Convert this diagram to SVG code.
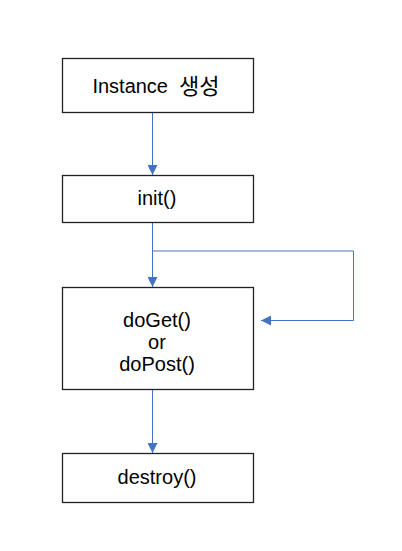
<svg xmlns="http://www.w3.org/2000/svg" width="402" height="551" viewBox="0 0 402 551">
<defs>
<marker id="ah" markerWidth="11" markerHeight="10" refX="10" refY="5" orient="auto" markerUnits="userSpaceOnUse"><path d="M0,0 L10,5 L0,10 Z" fill="#4472C4"/></marker>
<style>
.box{fill:#fff;stroke:#222;stroke-width:1.3}
.t{font-family:"Liberation Sans","Noto Sans CJK KR",sans-serif;font-size:20px;fill:#000;text-anchor:middle;dominant-baseline:central;white-space:pre}
.ko{font-size:22px}
.c{fill:none;stroke:#4472C4;stroke-width:1}
</style>
</defs>
<rect width="402" height="551" fill="#fff"/>
<g id="connectors">
<path class="c" d="M152.5,112 V175" marker-end="url(#ah)"/>
<path class="c" d="M152.5,222 V287" marker-end="url(#ah)"/>
<path class="c" d="M152.5,251 H353.5 V320.5 H261" marker-end="url(#ah)"/>
<path class="c" d="M152.5,389 V453" marker-end="url(#ah)"/>
</g>
<g id="instance"><rect class="box" x="62.5" y="58.5" width="191" height="54"/><text class="t" x="156" y="86" xml:space="preserve">Instance  <tspan class="ko">생성</tspan></text></g>
<g id="init"><rect class="box" x="62.5" y="175.5" width="191" height="47"/><text class="t" x="157" y="198">init()</text></g>
<g id="doget"><rect class="box" x="62.5" y="287.5" width="191" height="102"/><text class="t" x="157" y="320">doGet()</text><text class="t" x="157" y="342">or</text><text class="t" x="157" y="364">doPost()</text></g>
<g id="destroy"><rect class="box" x="62.5" y="453.5" width="191" height="49"/><text class="t" x="157" y="477">destroy()</text></g>
</svg>
